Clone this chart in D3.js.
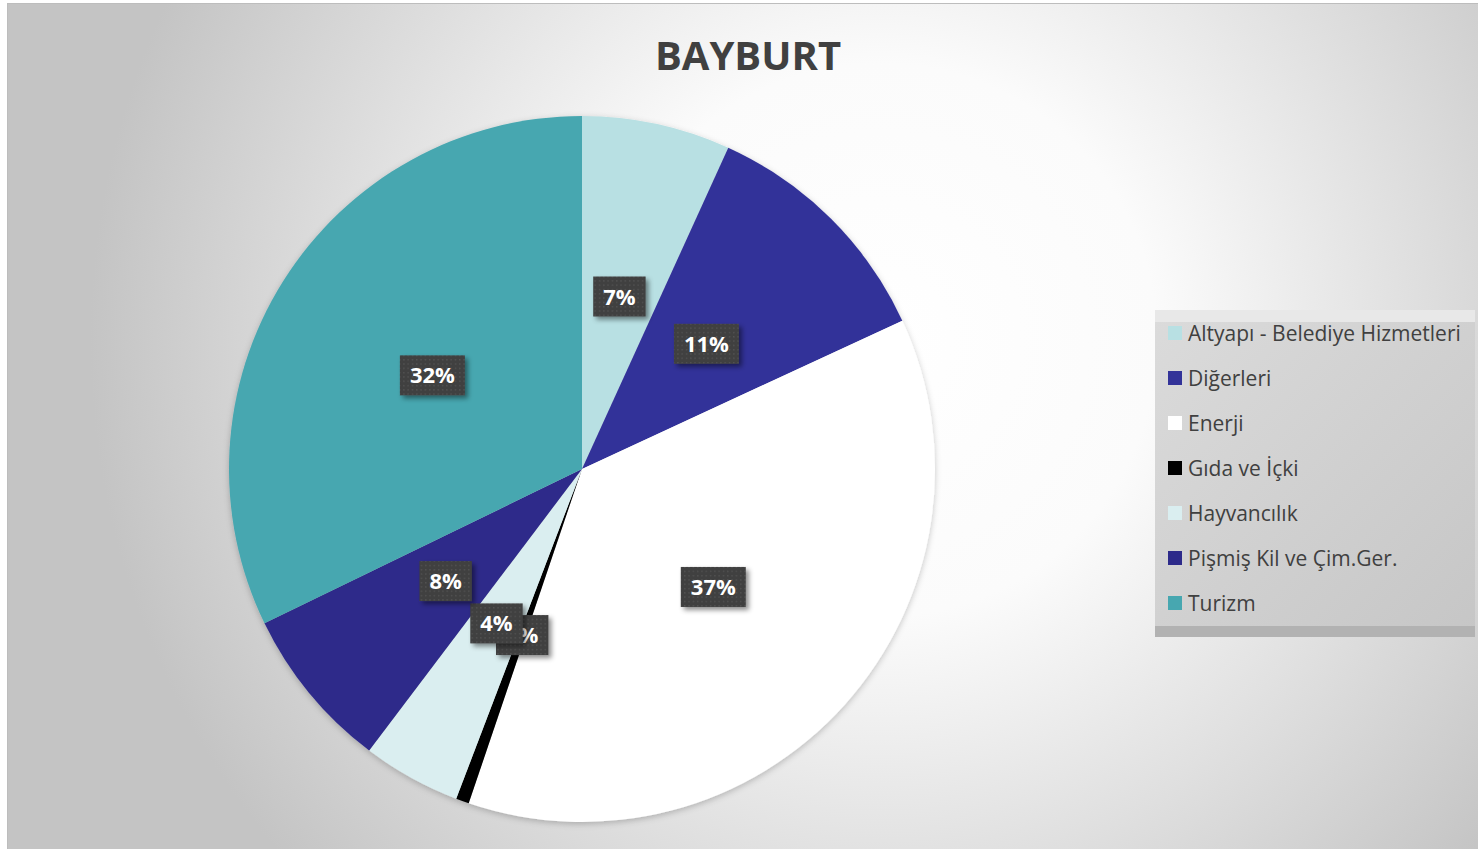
<!DOCTYPE html>
<html>
<head>
<meta charset="utf-8">
<script src="https://cdn.jsdelivr.net/npm/d3@7"></script>
<style>
  body { margin: 0; background: #fff; }
  svg { display: block; }
</style>
</head>
<body>
<div id="chart"></div>
<script>
// data (percent of total)
const categories = ["Altyapı - Belediye Hizmetleri", "Diğerleri", "Enerji", "Gıda ve İçki",
                    "Hayvancılık", "Pişmiş Kil ve Çim.Ger.", "Turizm"];
const shares = [6.8, 11.3, 37.1, 0.6, 4.5, 7.5, 32.2];
const percentLabels = ["7%", "11%", "37%", "1%", "4%", "8%", "32%"];
const sliceColors = ["#b8e0e3", "#333399", "#ffffff", "#000000", "#daeef0", "#2d2a8a", "#47a7b0"];
const title = "BAYBURT";

const W = 1478, H = 849;
const cx = 582, cy = 469, R = 353;

const svg = d3.select("#chart").append("svg")
    .attr("width", W)
    .attr("height", H);

const defs = svg.append("defs");

// background gradient of the chart area
const bg = defs.append("radialGradient")
    .attr("id", "bgGrad")
    .attr("gradientUnits", "userSpaceOnUse")
    .attr("cx", 880).attr("cy", 340).attr("r", 790);
bg.append("stop").attr("offset", 0).attr("stop-color", "#ffffff");
bg.append("stop").attr("offset", 0.35).attr("stop-color", "#fbfbfb");
bg.append("stop").attr("offset", 1).attr("stop-color", "#c4c4c4");

// legend gradient
const lg = defs.append("linearGradient")
    .attr("id", "legGrad")
    .attr("x1", 0).attr("y1", 0).attr("x2", 1).attr("y2", 1);
lg.append("stop").attr("offset", 0).attr("stop-color", "#dbdbdb");
lg.append("stop").attr("offset", 1).attr("stop-color", "#c6c6c6");

// dotted fill for the data labels
const dots = defs.append("pattern")
    .attr("id", "dots")
    .attr("patternUnits", "userSpaceOnUse")
    .attr("width", 4.3).attr("height", 4.3);
dots.append("rect").attr("width", 4.3).attr("height", 4.3).attr("fill", "#404040");
dots.append("rect").attr("x", 1).attr("y", 1).attr("width", 1.2).attr("height", 1.2).attr("fill", "#595959");

// shadows
const sh = defs.append("filter").attr("id", "labShadow")
    .attr("x", "-30%").attr("y", "-30%").attr("width", "170%").attr("height", "170%");
sh.append("feDropShadow")
    .attr("dx", 3).attr("dy", 3).attr("stdDeviation", 2.5)
    .attr("flood-color", "#000").attr("flood-opacity", 0.45);

const pieSh = defs.append("filter").attr("id", "pieShadow")
    .attr("x", "-10%").attr("y", "-10%").attr("width", "120%").attr("height", "120%");
pieSh.append("feDropShadow")
    .attr("dx", 0).attr("dy", 2).attr("stdDeviation", 3)
    .attr("flood-color", "#000").attr("flood-opacity", 0.22);

// chart area
svg.append("rect")
    .attr("x", 7.5).attr("y", 3.5)
    .attr("width", W - 7).attr("height", H - 3)
    .attr("fill", "url(#bgGrad)")
    .attr("stroke", "#bdbdbd")
    .attr("stroke-width", 1);

// title
svg.append("text")
    .attr("x", 748)
    .attr("y", 70)
    .attr("text-anchor", "middle")
    .style("font-family", "'Open Sans', sans-serif")
    .style("font-weight", "bold")
    .style("font-size", "40px")
    .attr("fill", "#404040")
    .text(title);

// pie
const pie = d3.pie().sort(null).value(d => d);
const arcs = pie(shares);
const arc = d3.arc().innerRadius(0).outerRadius(R);

const g = svg.append("g")
    .attr("transform", `translate(${cx},${cy})`);

g.append("g")
    .attr("filter", "url(#pieShadow)")
    .selectAll("path")
    .data(arcs)
    .enter()
    .append("path")
    .attr("d", arc)
    .attr("fill", (d, i) => sliceColors[i]);

// data labels, centred at half the radius
const labels = g.selectAll(".lab")
    .data(arcs)
    .enter()
    .append("g")
    .attr("class", "lab")
    .attr("transform", d => `translate(${arc.centroid(d)})`);

labels.each(function(d, i) {
    const sel = d3.select(this);
    const t = sel.append("text")
        .attr("text-anchor", "middle")
        .attr("y", 8)
        .style("font-family", "'Open Sans', sans-serif")
        .style("font-weight", "bold")
        .style("font-size", "22px")
        .attr("fill", "#ffffff")
        .text(percentLabels[i]);
    const w = t.node().getComputedTextLength() + 20;
    sel.insert("rect", "text")
        .attr("x", -w / 2)
        .attr("y", -20)
        .attr("width", w)
        .attr("height", 40)
        .attr("fill", "url(#dots)")
        .attr("filter", "url(#labShadow)");
});

// legend
const legX = 1155, legY = 310, legW = 320, legH = 327;
const leg = svg.append("g");
leg.append("rect")
    .attr("x", legX).attr("y", legY)
    .attr("width", legW).attr("height", legH)
    .attr("fill", "url(#legGrad)");
leg.append("rect")
    .attr("x", legX).attr("y", legY)
    .attr("width", legW).attr("height", 12)
    .attr("fill", "#e8e8e8");
leg.append("rect")
    .attr("x", legX).attr("y", legY + legH - 11)
    .attr("width", legW).attr("height", 11)
    .attr("fill", "#b2b2b2");

const items = leg.selectAll(".item")
    .data(categories)
    .enter()
    .append("g")
    .attr("class", "item")
    .attr("transform", (d, i) => `translate(${legX + 13}, ${legY + 23 + i * 45})`);

items.append("rect")
    .attr("x", 0).attr("y", -7)
    .attr("width", 14).attr("height", 14)
    .attr("fill", (d, i) => sliceColors[i]);

items.append("text")
    .attr("x", 20)
    .attr("y", 8)
    .style("font-family", "'Open Sans', sans-serif")
    .style("font-size", "21px")
    .attr("fill", "#404040")
    .text(d => d);
</script>
</body>
</html>
